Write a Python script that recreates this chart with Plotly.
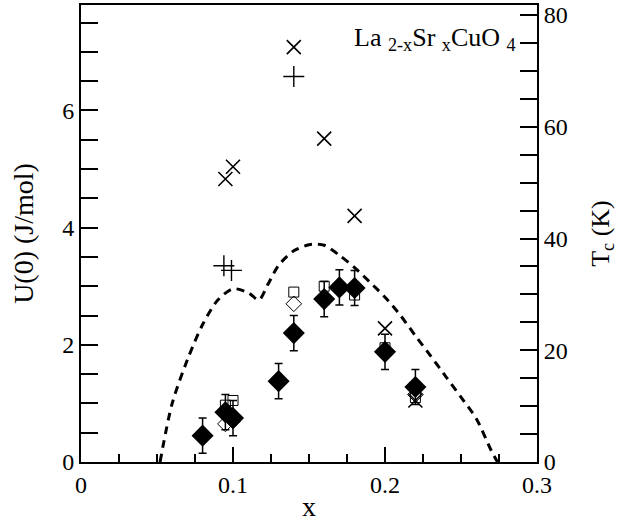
import plotly.graph_objects as go

# Filled diamonds (with error bars)
x_fd = [0.08, 0.095, 0.10, 0.13, 0.14, 0.16, 0.17, 0.18, 0.20, 0.22]
y_fd = [0.45, 0.85, 0.75, 1.38, 2.20, 2.78, 2.98, 2.97, 1.88, 1.28]
err_fd = [0.3, 0.3, 0.3, 0.3, 0.3, 0.3, 0.3, 0.3, 0.3, 0.3]

# Open squares
x_sq = [0.095, 0.10, 0.14, 0.16, 0.18, 0.20, 0.22]
y_sq = [0.97, 1.05, 2.90, 3.00, 2.85, 1.95, 1.10]

# Open diamonds
x_od = [0.095, 0.10, 0.14, 0.22]
y_od = [0.65, 0.70, 2.70, 1.15]

# Crosses (x)
x_cr = [0.095, 0.10, 0.14, 0.16, 0.18, 0.20, 0.22]
y_cr = [4.83, 5.04, 7.08, 5.52, 4.20, 2.28, 1.05]

# Plus
x_pl = [0.094, 0.099, 0.14]
y_pl = [3.35, 3.27, 6.58]

# Tc dome (right axis)
x_tc = [0.052, 0.06, 0.07, 0.08, 0.09, 0.10, 0.11, 0.117, 0.123, 0.13, 0.14,
        0.15, 0.155, 0.16, 0.17, 0.18, 0.19, 0.20, 0.21, 0.22, 0.23, 0.24,
        0.25, 0.26, 0.27, 0.274]
tc = [0.0, 10.5, 18.3, 24.6, 29.0, 31.0, 30.3, 29.0, 31.8, 35.2, 37.8,
      38.9, 39.0, 38.8, 37.0, 34.8, 32.2, 29.5, 26.3, 22.6, 19.0, 15.3,
      11.6, 7.8, 2.0, 0.0]

FONT = "Liberation Serif"
TF = dict(family=FONT, size=24, color="black")
fig = go.Figure()

fig.add_trace(go.Scatter(x=x_tc, y=tc, yaxis="y2", mode="lines",
                         line=dict(color="black", width=3, dash="8px,6px", shape="spline", smoothing=0.8),
                         showlegend=False))
fig.add_trace(go.Scatter(x=x_cr, y=y_cr, mode="markers",
                         marker=dict(symbol="x-thin-open", size=14, color="black",
                                     line=dict(color="black", width=1.6)),
                         showlegend=False))
fig.add_trace(go.Scatter(x=x_pl, y=y_pl, mode="markers",
                         marker=dict(symbol="cross-thin-open", size=15, color="black",
                                     line=dict(color="black", width=1.4)),
                         showlegend=False))
fig.add_trace(go.Scatter(x=x_sq, y=y_sq, mode="markers",
                         marker=dict(symbol="square-open", size=10, color="black", line=dict(color="black", width=1)),
                         showlegend=False))
fig.add_trace(go.Scatter(x=x_od, y=y_od, mode="markers",
                         marker=dict(symbol="diamond-open", size=12, color="black", line=dict(color="black", width=1)),
                         showlegend=False))
fig.add_trace(go.Scatter(x=x_fd, y=y_fd, mode="markers",
                         error_y=dict(type="data", array=err_fd, color="black", thickness=1.5, width=4),
                         marker=dict(symbol="diamond", size=17, color="black"),
                         showlegend=False))

fig.add_annotation(xref="paper", yref="paper", x=0.958, y=0.965, xanchor="right", yanchor="top",
                   text="La <sub>2-x</sub>Sr <sub>x</sub>CuO <sub>4</sub>", showarrow=False,
                   font=dict(family=FONT, size=26, color="black"))

fig.update_layout(
    width=634, height=522,
    margin=dict(l=81, r=97, t=5, b=60),
    paper_bgcolor="white", plot_bgcolor="white",
    font=dict(family=FONT, size=24, color="black"),
    xaxis=dict(range=[0, 0.3], tickvals=[0, 0.1, 0.2, 0.3], ticktext=["0", "0.1", "0.2", "0.3"],
               tickfont=TF, automargin=False,
               ticks="inside", ticklen=15, tickwidth=1.5, tickcolor="black",
               minor=dict(dtick=0.025, ticks="inside", ticklen=8, tickwidth=1.5, tickcolor="black"),
               showline=True, linecolor="black", linewidth=2, mirror=True,
               showgrid=False, zeroline=False,
               title=dict(text="x", standoff=0, font=dict(family=FONT, size=28, color="black"))),
    yaxis=dict(range=[0, 7.8], tickvals=[0, 2, 4, 6], tickfont=TF, automargin=False,
               ticks="inside", ticklen=17, tickwidth=1.5, tickcolor="black",
               minor=dict(dtick=0.5, ticks="inside", ticklen=17, tickwidth=1.5, tickcolor="black"),
               showline=True, linecolor="black", linewidth=2,
               showgrid=False, zeroline=False,
               title=dict(text="U(0) (J/mol)", standoff=20, font=dict(family=FONT, size=28, color="black"))),
    yaxis2=dict(range=[0, 81.8], overlaying="y", side="right", tickvals=[0, 20, 40, 60, 80],
                tickfont=TF, automargin=False,
                ticks="inside", ticklen=17, tickwidth=1.5, tickcolor="black",
                minor=dict(dtick=5, ticks="inside", ticklen=17, tickwidth=1.5, tickcolor="black"),
                showline=True, linecolor="black", linewidth=2,
                showgrid=False, zeroline=False,
                title=dict(text="T<sub>c</sub> (K)", standoff=24, font=dict(family=FONT, size=26, color="black"))),
)

fig.write_html("out.html", config={"displayModeBar": False},
               post_script="document.body.style.margin='0';")
